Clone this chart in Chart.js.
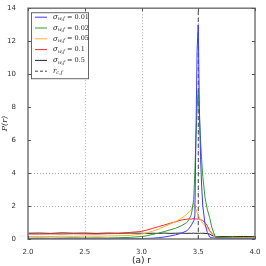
<!DOCTYPE html>
<html><head><meta charset="utf-8">
<script src="https://cdn.jsdelivr.net/npm/chart.js@4/dist/chart.umd.min.js"></script>
<style>html,body{margin:0;padding:0;background:#fff}#wrap{width:266px;height:266px}</style>
</head><body><div id="wrap"><canvas id="c" width="266" height="266"></canvas></div>
<script>
const rValues = [2.0,2.1,2.2,2.3,2.4,2.5,2.6,2.7,2.8,2.9,3.0,3.05,3.1,3.15,3.2,3.25,3.3,3.35,3.4,3.42,3.44,3.46,3.47,3.48,3.49,3.5,3.51,3.52,3.53,3.54,3.56,3.58,3.6,3.62,3.65,3.7,3.8,3.9,4.0];
const sigma001 = [0.02,0.03,0.02,0.03,0.02,0.03,0.02,0.03,0.02,0.03,0.03,0.04,0.05,0.08,0.12,0.18,0.25,0.35,0.5,0.65,0.85,1.1,1.4,6.5,11.5,13.0,8.0,5.0,3.2,2.0,0.9,0.4,0.12,0.08,0.05,0.04,0.03,0.03,0.03];
const sigma002 = [0.05,0.06,0.05,0.06,0.07,0.06,0.07,0.06,0.08,0.1,0.15,0.2,0.28,0.36,0.45,0.55,0.65,0.8,1.0,1.2,1.5,2.4,4.0,6.2,8.0,9.0,7.5,6.0,4.8,3.8,2.5,1.8,1.3,0.7,0.12,0.08,0.06,0.05,0.05];
const sigma005 = [0.15,0.16,0.15,0.17,0.16,0.18,0.17,0.18,0.2,0.22,0.3,0.38,0.48,0.6,0.75,0.9,1.05,1.25,1.5,1.65,1.8,2.2,2.0,1.8,1.6,1.45,1.3,1.15,1.05,0.95,0.8,0.65,0.45,0.3,0.12,0.1,0.09,0.08,0.08];
const sigma01 = [0.3,0.3,0.31,0.3,0.32,0.31,0.3,0.32,0.34,0.4,0.46,0.55,0.65,0.75,0.85,0.95,1.05,1.15,1.2,1.22,1.2,1.25,1.2,1.23,1.2,1.22,1.2,1.18,1.15,1.12,1.0,0.8,0.5,0.35,0.1,0.09,0.08,0.08,0.07];
const sigma05 = [0.35,0.36,0.34,0.37,0.35,0.36,0.34,0.36,0.35,0.36,0.35,0.34,0.35,0.34,0.36,0.34,0.35,0.36,0.34,0.35,0.34,0.36,0.34,0.35,0.34,0.35,0.34,0.35,0.34,0.35,0.34,0.33,0.3,0.22,0.15,0.15,0.14,0.15,0.14];
const rcf = 3.5;
const yMax = 14;
const xTicks = [2.0,2.5,3.0,3.5,4.0];
const yTicks = [0,2,4,6,8,10,12,14];
const gridX = [2.5,3.0,3.5];
const gridY = [2,4];
const legendLabels = [
  {sym:'σ', sub:'w,f', val:' = 0.01'},
  {sym:'σ', sub:'w,f', val:' = 0.02'},
  {sym:'σ', sub:'w,f', val:' = 0.05'},
  {sym:'σ', sub:'w,f', val:' = 0.1'},
  {sym:'σ', sub:'w,f', val:' = 0.5'},
  {sym:'r', sub:'c,f', val:''}
];
const colors = ['#3a3aff','#2e9e2e','#ffb030','#ff2a2a','#222222','#444444'];

function pts(ys){return rValues.map((x,i)=>({x:x,y:ys[i]}));}
const series=[sigma001,sigma002,sigma005,sigma01,sigma05];
const datasets = series.map((s,i)=>({data:pts(s),borderColor:colors[i],borderWidth:1,pointRadius:0,tension:0,fill:false}));
datasets.push({data:[{x:rcf,y:0},{x:rcf,y:yMax}],borderColor:colors[5],borderWidth:1,borderDash:[4,3],pointRadius:0});

const framePlugin = {
  id:'frame',
  beforeDatasetsDraw(chart){
    const {ctx,chartArea:a,scales:{x,y}}=chart;
    ctx.save();
    ctx.strokeStyle='#aaaaaa';ctx.lineWidth=1;ctx.setLineDash([1,2]);
    gridX.forEach(v=>{const px=Math.round(x.getPixelForValue(v))+0.5;ctx.beginPath();ctx.moveTo(px,a.top);ctx.lineTo(px,a.bottom);ctx.stroke();});
    gridY.forEach(v=>{const py=Math.round(y.getPixelForValue(v))+0.5;ctx.beginPath();ctx.moveTo(a.left,py);ctx.lineTo(a.right,py);ctx.stroke();});
    ctx.restore();
  },
  afterDatasetsDraw(chart){
    const {ctx,chartArea:a,scales:{x,y}}=chart;
    ctx.save();
    ctx.strokeStyle='#777';ctx.lineWidth=1.5;ctx.setLineDash([]);
    ctx.strokeRect(a.left,a.top,a.right-a.left,a.bottom-a.top);
    ctx.lineWidth=1;ctx.strokeStyle='#555';
    yTicks.forEach(v=>{const py=Math.round(y.getPixelForValue(v))+0.5;ctx.beginPath();ctx.moveTo(a.left,py);ctx.lineTo(a.left+3,py);ctx.moveTo(a.right,py);ctx.lineTo(a.right-3,py);ctx.stroke();});
    xTicks.forEach(v=>{const px=Math.round(x.getPixelForValue(v))+0.5;ctx.beginPath();ctx.moveTo(px,a.bottom);ctx.lineTo(px,a.bottom-3);ctx.moveTo(px,a.top);ctx.lineTo(px,a.top+3);ctx.stroke();});
    const L=a.left+3,T=a.top+4,W=57,H=66;
    ctx.fillStyle='#fff';ctx.fillRect(L,T,W,H);
    ctx.strokeStyle='#666';ctx.lineWidth=1;ctx.strokeRect(L+0.5,T+0.5,W,H);
    legendLabels.forEach((lab,i)=>{
      const yy=T+5+i*10.8;
      ctx.strokeStyle=colors[i];ctx.lineWidth=1;
      ctx.setLineDash(i===5?[3,2]:[]);
      ctx.beginPath();ctx.moveTo(L+4,yy);ctx.lineTo(L+16,yy);ctx.stroke();
      ctx.setLineDash([]);
      ctx.fillStyle='#222';ctx.textBaseline='middle';ctx.textAlign='left';
      ctx.font='italic 7px "DejaVu Serif"';
      let tx=L+22;
      ctx.fillText(lab.sym,tx,yy);tx+=ctx.measureText(lab.sym).width;
      ctx.font='italic 5px "DejaVu Serif"';
      ctx.fillText(lab.sub,tx,yy+2);tx+=ctx.measureText(lab.sub).width;
      ctx.font='6.5px "DejaVu Serif"';
      ctx.fillText(lab.val,tx,yy);
    });
    ctx.restore();
  }
};

new Chart(document.getElementById('c'),{
  type:'line',
  data:{datasets},
  plugins:[framePlugin],
  options:{
    responsive:false,animation:false,devicePixelRatio:1,
    layout:{padding:{left:0,top:8,right:11,bottom:0}},
    plugins:{legend:{display:false},tooltip:{enabled:false}},
    scales:{
      x:{type:'linear',min:2.0,max:4.0,
        afterBuildTicks(s){s.ticks=xTicks.map(v=>({value:v}));},
        afterFit(s){s.height=27;},
        grid:{display:false},border:{display:false},
        ticks:{color:'#333',font:{size:7,family:'DejaVu Sans'},padding:1,maxRotation:0,callback:v=>v.toFixed(1)},
        title:{display:true,text:'(a) r',color:'#222',font:{size:9,family:'DejaVu Sans'},padding:{top:0,bottom:0}}},
      y:{type:'linear',min:0,max:yMax,
        afterBuildTicks(s){s.ticks=yTicks.map(v=>({value:v}));},
        afterFit(s){s.width=28;},
        grid:{display:false},border:{display:false},
        ticks:{color:'#333',font:{size:7,family:'DejaVu Sans'},padding:4},
        title:{display:true,text:'P(r)',color:'#222',font:{size:8,family:'DejaVu Serif',style:'italic'},padding:{top:0,bottom:2}}}
    }
  }
});
</script></body></html>
